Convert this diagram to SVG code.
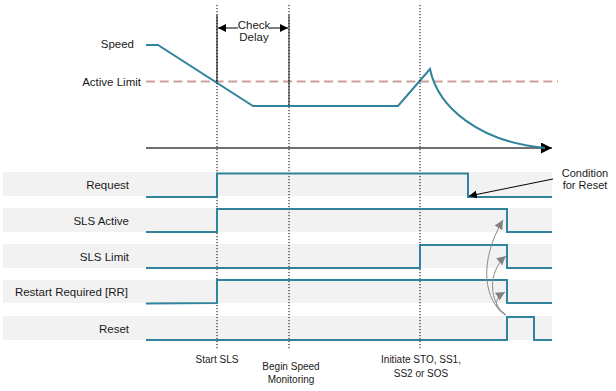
<svg xmlns="http://www.w3.org/2000/svg" width="616" height="391" viewBox="0 0 616 391">
<style>
.lbl{font-family:"Liberation Sans",Arial,sans-serif;font-size:11.5px;fill:#1a1a1a}
.sm{font-family:"Liberation Sans",Arial,sans-serif;font-size:10px;fill:#1a1a1a}
.band{fill:#f2f2f2}
.sig{fill:none;stroke:#31849b;stroke-width:2;stroke-linejoin:miter}
.dot{stroke:#000;stroke-width:1;stroke-dasharray:1.2 1.8;fill:none}
.gray{fill:none;stroke:#8c8c8c;stroke-width:1}
</style>
<defs>
<marker id="ab" viewBox="0 0 10 10" refX="10" refY="5" markerWidth="8" markerHeight="8" markerUnits="userSpaceOnUse" orient="auto"><path d="M0,0 L10,5 L0,10 z" fill="#000"/></marker>
<marker id="ag" viewBox="0 0 10 10" refX="10" refY="5" markerWidth="9" markerHeight="9" markerUnits="userSpaceOnUse" orient="auto"><path d="M0,0 L10,5 L0,10 z" fill="#808080"/></marker>
<marker id="ax" viewBox="0 0 10 10" refX="10" refY="5" markerWidth="11" markerHeight="11" markerUnits="userSpaceOnUse" orient="auto"><path d="M0,0 L10,5 L0,10 z" fill="#000"/></marker>
</defs>
<rect width="616" height="391" fill="#fff"/>

<g id="bands">
<rect class="band" x="3" y="172" width="549" height="24"/>
<rect class="band" x="3" y="208" width="549" height="24"/>
<rect class="band" x="3" y="244" width="549" height="24"/>
<rect class="band" x="3" y="280" width="549" height="23"/>
<rect class="band" x="3" y="316" width="549" height="24"/>
</g>

<g id="speed-chart">
<text class="lbl" x="134" y="48" text-anchor="end">Speed</text>
<text class="lbl" x="141" y="86" text-anchor="end">Active Limit</text>
<line x1="146" y1="81.5" x2="558" y2="81.5" stroke="#c9a09a" stroke-width="2" stroke-dasharray="9 4.7"/>
<line x1="146" y1="148" x2="552" y2="148" stroke="#404040" stroke-width="1.5" marker-end="url(#ax)"/>
<path class="sig" d="M146,45 L158,45 L253,106 L398,106 L430,69 C438,108 480,142 545,148"/>
</g>

<g id="markers">
<line class="dot" x1="217" y1="5" x2="217" y2="349"/>
<line class="dot" x1="289" y1="5" x2="289" y2="349" stroke="#555"/>
<line class="dot" x1="420" y1="5" x2="420" y2="349"/>
<line x1="217" y1="15" x2="217" y2="82" stroke="#000" stroke-width="1"/>
<line x1="289" y1="15" x2="289" y2="105" stroke="#222" stroke-width="1"/>
</g>

<g id="check-delay">
<line x1="238" y1="28" x2="218" y2="28" stroke="#000" stroke-width="1" marker-end="url(#ab)"/>
<line x1="270" y1="28" x2="288" y2="28" stroke="#000" stroke-width="1" marker-end="url(#ab)"/>
<text class="lbl" x="254" y="28.5" text-anchor="middle">Check</text>
<text class="lbl" x="254" y="40.5" text-anchor="middle">Delay</text>
</g>

<g id="request">
<text class="lbl" x="129" y="189" text-anchor="end">Request</text>
<path class="sig" d="M146,197 L217,197 L217,173.5 L468,173.5 L468,197 L552,197"/>
</g>
<g id="sls-active">
<text class="lbl" x="129" y="225" text-anchor="end">SLS Active</text>
<path class="sig" d="M146,232 L217,232 L217,209 L507,209 L507,232 L552,232"/>
</g>
<g id="sls-limit">
<text class="lbl" x="129" y="261" text-anchor="end">SLS Limit</text>
<path class="sig" d="M146,268 L420,268 L420,245 L507,245 L507,268 L552,268"/>
</g>
<g id="restart-required">
<text class="lbl" x="128" y="296" text-anchor="end">Restart Required [RR]</text>
<path class="sig" d="M146,303.5 L217,303 L217,280 L507,280 L507,303 L552,303"/>
</g>
<g id="reset">
<text class="lbl" x="129" y="333" text-anchor="end">Reset</text>
<path class="sig" d="M146,340 L507,340 L507,317 L534,317 L534,340 L552,340"/>
</g>

<g id="connectors">
<line x1="553" y1="179" x2="469" y2="196" stroke="#000" stroke-width="1" marker-end="url(#ab)"/>
<path class="gray" d="M506,315 C484,302 478,262 503,220" marker-end="url(#ag)"/>
<path class="gray" d="M506,315 C489,303 487,272 506,256" marker-end="url(#ag)"/>
<path class="gray" d="M506,315 C494,309 493,299 505,292" marker-end="url(#ag)"/>
</g>

<g id="annotations">
<text class="lbl" x="585" y="177" text-anchor="middle" style="font-size:11px">Condition</text>
<text class="lbl" x="585" y="189" text-anchor="middle" style="font-size:11px">for Reset</text>
<text class="sm" x="217" y="363" text-anchor="middle">Start SLS</text>
<text class="sm" x="291" y="370" text-anchor="middle">Begin Speed</text>
<text class="sm" x="291" y="383" text-anchor="middle">Monitoring</text>
<text class="sm" x="421" y="363" text-anchor="middle">Initiate STO, SS1,</text>
<text class="sm" x="421" y="377" text-anchor="middle">SS2 or SOS</text>
</g>
</svg>
